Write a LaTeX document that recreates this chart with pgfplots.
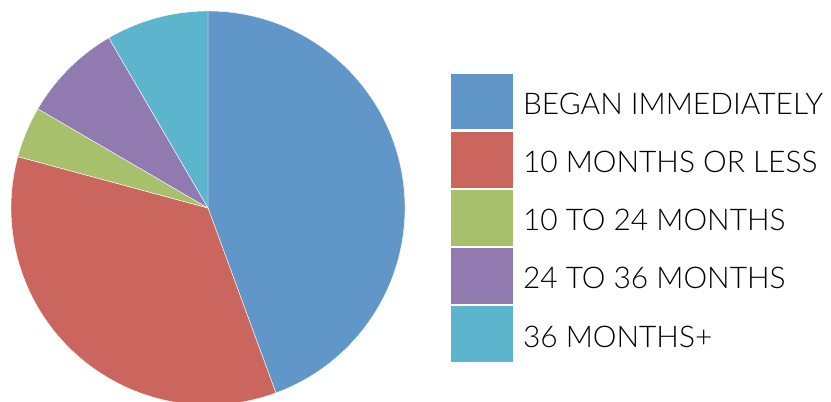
\documentclass[border=0pt]{standalone}
\usepackage{pgfplots}
\pgfplotsset{compat=1.18}
\usepackage{pgfplotstable}
\usepackage{fontspec}
\setmainfont{Lato Light}

\definecolor{c0}{HTML}{6096C8}
\definecolor{c1}{HTML}{CA665E}
\definecolor{c2}{HTML}{A6C06B}
\definecolor{c3}{HTML}{917AB0}
\definecolor{c4}{HTML}{5CB5CC}

% share of each slice, percent, clockwise from 12 o'clock
\pgfplotstableread{
share
44.4
34.8
4.2
8.2
8.4
}\piedata

\begin{document}
\begin{tikzpicture}
% turn the shares into start/end angles
\def\curang{90}
\pgfplotsforeachungrouped \i in {0,...,4}{%
  \pgfplotstablegetelem{\i}{share}\of\piedata
  \pgfmathsetmacro\nextang{\curang-3.6*\pgfplotsretval}%
  \expandafter\xdef\csname sA\i\endcsname{\curang}%
  \expandafter\xdef\csname sB\i\endcsname{\nextang}%
  \global\let\curang\nextang
}
\begin{axis}[
    hide axis,
    scale only axis,
    width=831bp, height=402bp,
    xmin=0, xmax=831, ymin=0, ymax=402,
    clip=true,
    legend style={
        at={(axis cs:451,328)}, anchor=north west,
        draw=none, fill=none, inner sep=0pt, outer sep=0pt,
        row sep=2.6bp, column sep=10bp,
        font=\fontsize{30}{30}\selectfont,
        nodes={inner sep=0pt, outer sep=0pt},
    },
    legend cell align=left,
    legend image code/.code={\fill[#1, draw=none] (0bp,-24.75bp) rectangle (62bp,30.75bp);},
]
% keep the whole axis box as the picture
\path (rel axis cs:0,0) rectangle (rel axis cs:1,1);
\pgfplotsinvokeforeach{0,...,4}{
  \fill[c#1, draw=white, line width=0.4bp] (axis cs:208,194)
    -- ++(\csname sA#1\endcsname:197bp)
    arc[start angle=\csname sA#1\endcsname, end angle=\csname sB#1\endcsname, radius=197bp]
    -- cycle;
}
\addlegendimage{fill=c0}
\addlegendentry{BEGAN IMMEDIATELY}
\addlegendimage{fill=c1}
\addlegendentry{10 MONTHS OR LESS}
\addlegendimage{fill=c2}
\addlegendentry{10 TO 24 MONTHS}
\addlegendimage{fill=c3}
\addlegendentry{24 TO 36 MONTHS}
\addlegendimage{fill=c4}
\addlegendentry{36 MONTHS+}
\end{axis}
\end{tikzpicture}
\end{document}
